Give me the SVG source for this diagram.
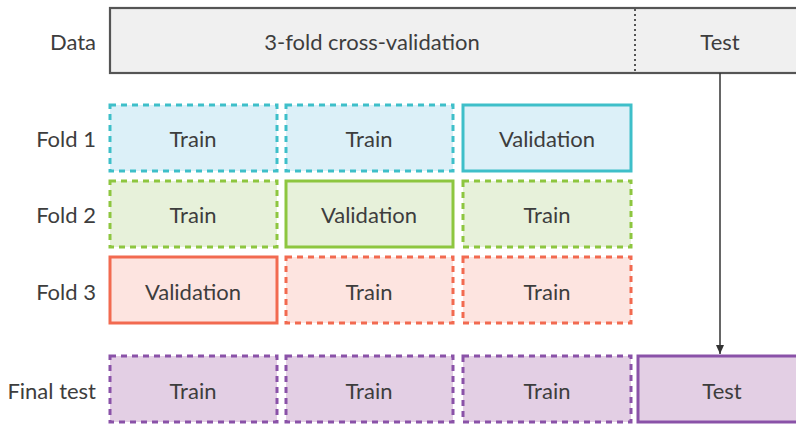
<svg xmlns="http://www.w3.org/2000/svg" width="796" height="425" viewBox="0 0 796 425">
<style>
text{font-family:"Lato","Open Sans","Liberation Sans",sans-serif;font-size:22px;fill:#3d3d3d;dominant-baseline:central}
.lbl{text-anchor:end}
.c{text-anchor:middle}
.train{stroke-width:3;stroke-dasharray:6 5}
.val{stroke-width:3}
.cy{stroke:#3ebfc9;fill:#dcf0f8}
.gr{stroke:#8dc63f;fill:#e7f1da}
.rd{stroke:#f26a50;fill:#fde4e0}
.pu{stroke:#8a52a8;fill:#e3cfe4}
</style>
<defs>
<marker id="ah" markerWidth="10" markerHeight="10" refX="9" refY="5" orient="auto" markerUnits="userSpaceOnUse">
<path d="M0,1 L9,5 L0,9 z" fill="#333"/>
</marker>
</defs>
<rect x="0" y="0" width="796" height="425" fill="#ffffff"/>
<g id="labels">
<text class="lbl" x="96" y="41">Data</text>
<text class="lbl" x="96" y="138">Fold 1</text>
<text class="lbl" x="96" y="214">Fold 2</text>
<text class="lbl" x="96" y="291">Fold 3</text>
<text class="lbl" x="96" y="390">Final test</text>
</g>
<g id="data">
<rect x="110" y="8" width="700" height="65" fill="#f0f0f0" stroke="#555" stroke-width="2.2"/>
<line x1="635" y1="9" x2="635" y2="72" stroke="#555" stroke-width="2" stroke-dasharray="2 3"/>
<text class="c" x="372" y="41">3-fold cross-validation</text>
<text class="c" x="720" y="41">Test</text>
</g>
<g id="fold1">
<rect class="train cy" x="110" y="105" width="167" height="66"/>
<text class="c" x="193" y="138">Train</text>
<rect class="train cy" x="286" y="105" width="167" height="66"/>
<text class="c" x="369" y="138">Train</text>
<rect class="val cy" x="463" y="105" width="168" height="66"/>
<text class="c" x="547" y="138">Validation</text>
</g>
<g id="fold2">
<rect class="train gr" x="110" y="181" width="167" height="66"/>
<text class="c" x="193" y="214">Train</text>
<rect class="val gr" x="286" y="181" width="167" height="66"/>
<text class="c" x="369" y="214">Validation</text>
<rect class="train gr" x="463" y="181" width="168" height="66"/>
<text class="c" x="547" y="214">Train</text>
</g>
<g id="fold3">
<rect class="val rd" x="110" y="257" width="167" height="66"/>
<text class="c" x="193" y="291">Validation</text>
<rect class="train rd" x="286" y="257" width="167" height="66"/>
<text class="c" x="369" y="291">Train</text>
<rect class="train rd" x="463" y="257" width="168" height="66"/>
<text class="c" x="547" y="291">Train</text>
</g>
<g id="final">
<rect class="train pu" x="110" y="356" width="167" height="66"/>
<text class="c" x="193" y="390">Train</text>
<rect class="train pu" x="286" y="356" width="167" height="66"/>
<text class="c" x="369" y="390">Train</text>
<rect class="train pu" x="463" y="356" width="168" height="66"/>
<text class="c" x="547" y="390">Train</text>
<rect class="val pu" x="638" y="356" width="170" height="66"/>
<text class="c" x="722" y="390">Test</text>
</g>
<g id="connectors">
<line x1="720" y1="73" x2="720" y2="354" stroke="#333" stroke-width="1.5" marker-end="url(#ah)"/>
</g>
</svg>
